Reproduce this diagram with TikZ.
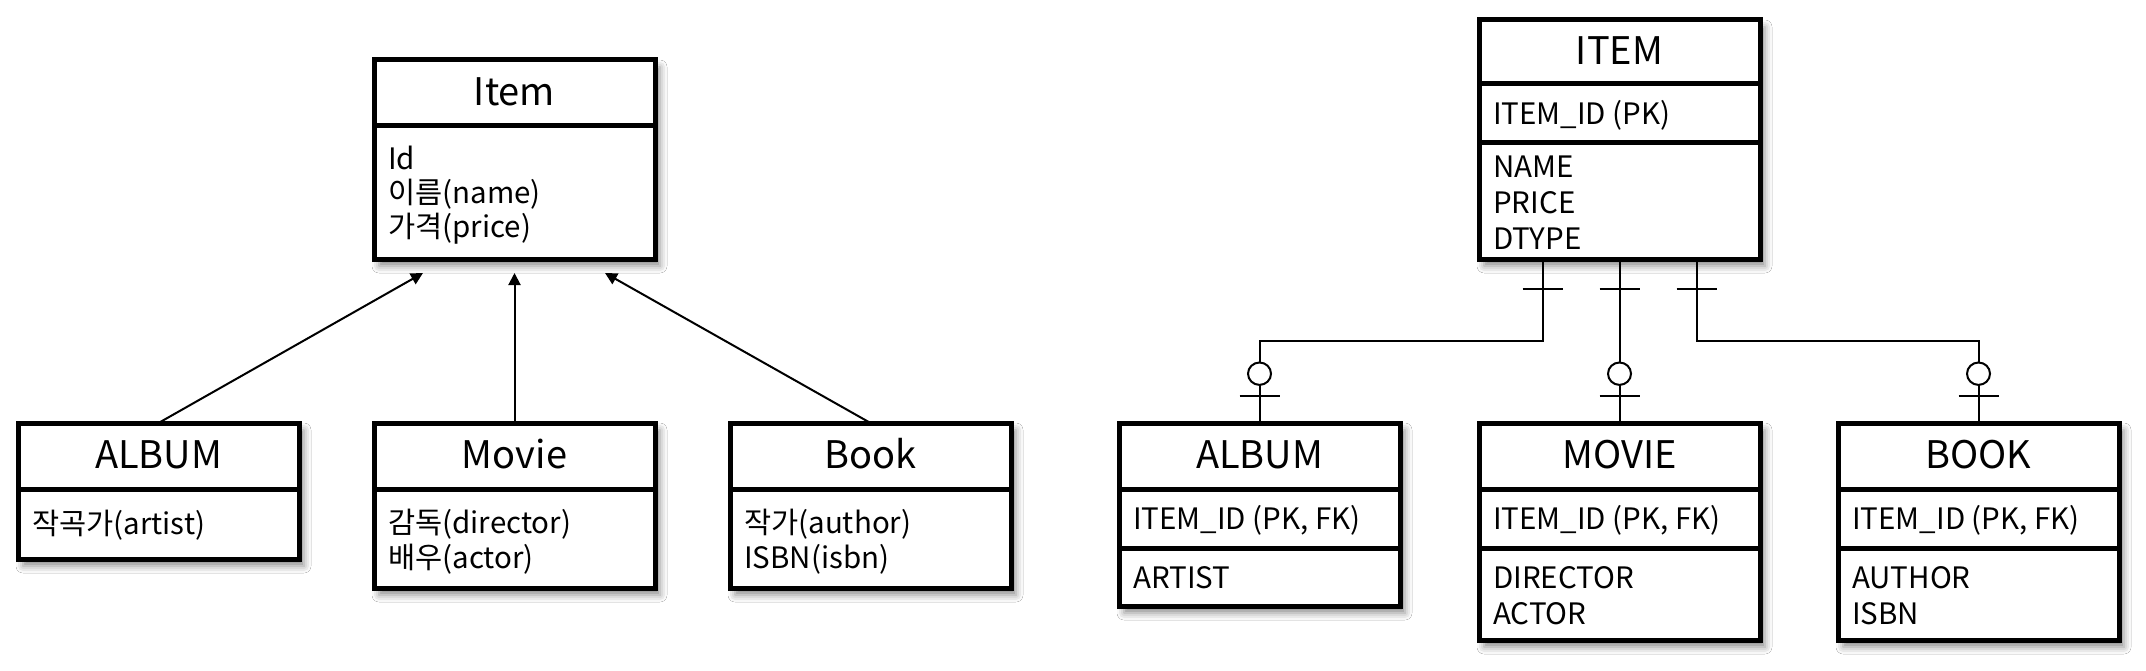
\documentclass[tikz,border=0pt]{standalone}
\usepackage{fontspec}
\setmainfont{Noto Sans CJK KR}
\usetikzlibrary{shadows.blur,arrows.meta,calc}
\begin{document}
\begin{tikzpicture}[x=1pt,y=-1pt,
  ent/.style={draw, line width=5pt, fill=white, minimum width=281pt, outer sep=0pt, inner sep=0pt, anchor=north west,
    blur shadow={shadow xshift=5pt, shadow yshift=-7pt, shadow blur radius=7pt, shadow opacity=45}},
  sepline/.style={line width=5pt},
  ttl/.style={anchor=base, font=\fontsize{38}{44}\selectfont, inner sep=0pt},
  att/.style={anchor=base west, font=\fontsize{29.5}{35}\selectfont, inner sep=0pt},
  conn/.style={line width=2pt},
  inh/.style={line width=2pt, -{Triangle[length=12pt,width=12pt]}},
]
\useasboundingbox[fill=white] (0,0) rectangle (2146,671);

% ---------- left: class diagram ----------
\node[ent, minimum height=199pt] (itemL) at (374,60) {};
\draw[sepline] (itemL.west |- 0,126) -- (itemL.east |- 0,126);
\node[ttl] (itemLt) at (514.5,105.5) {Item};
\node[att] (itemLa) at (388,169.5) {Id};
\node[att] (itemLb) at (388,203.5) {이름(name)};
\node[att] (itemLc) at (388,237.5) {가격(price)};

\node[ent, minimum height=136pt] (albumL) at (18,423) {};
\draw[sepline] (albumL.west |- 0,489) -- (albumL.east |- 0,489);
\node[ttl] (albumLt) at (158.5,468.5) {ALBUM};
\node[att] (albumLa) at (32,534.5) {작곡가(artist)};

\node[ent, minimum height=165pt] (movieL) at (374,423) {};
\draw[sepline] (movieL.west |- 0,489) -- (movieL.east |- 0,489);
\node[ttl] (movieLt) at (514.5,468.5) {Movie};
\node[att] (movieLa) at (388,533) {감독(director)};
\node[att] (movieLb) at (388,568) {배우(actor)};

\node[ent, minimum height=165pt] (bookL) at (730,423) {};
\draw[sepline] (bookL.west |- 0,489) -- (bookL.east |- 0,489);
\node[ttl] (bookLt) at (870.5,468.5) {Book};
\node[att] (bookLa) at (744,533) {작가(author)};
\node[att] (bookLb) at (744,568) {ISBN(isbn)};

\draw[inh] (albumL.north) -- ($(itemL.south west)+(49,14)$);
\draw[inh] (movieL.north) -- ($(itemL.south)+(0,14)$);
\draw[inh] (bookL.north) -- ($(itemL.south east)+(-50,14)$);

% ---------- right: ER diagram ----------
\node[ent, minimum height=239pt] (itemR) at (1479,20) {};
\draw[sepline] (itemR.west |- 0,84) -- (itemR.east |- 0,84);
\draw[sepline] (itemR.west |- 0,143) -- (itemR.east |- 0,143);
\node[ttl] (itemRt) at (1619.5,64.5) {ITEM};
\node[att] (itemRa) at (1493,124.5) {ITEM\_ID (PK)};
\node[att] (itemRb) at (1493,178) {NAME};
\node[att] (itemRc) at (1493,213.5) {PRICE};
\node[att] (itemRd) at (1493,249) {DTYPE};

\node[ent, minimum height=183pt] (albumR) at (1119,423) {};
\draw[sepline] (albumR.west |- 0,489) -- (albumR.east |- 0,489);
\draw[sepline] (albumR.west |- 0,548) -- (albumR.east |- 0,548);
\node[ttl] (albumRt) at (1259.5,468.5) {ALBUM};
\node[att] (albumRa) at (1133,529.5) {ITEM\_ID (PK, FK)};
\node[att] (albumRb) at (1133,588) {ARTIST};

\node[ent, minimum height=217pt] (movieR) at (1479,423) {};
\draw[sepline] (movieR.west |- 0,489) -- (movieR.east |- 0,489);
\draw[sepline] (movieR.west |- 0,548) -- (movieR.east |- 0,548);
\node[ttl] (movieRt) at (1619.5,468.5) {MOVIE};
\node[att] (movieRa) at (1493,529.5) {ITEM\_ID (PK, FK)};
\node[att] (movieRb) at (1493,588.5) {DIRECTOR};
\node[att] (movieRc) at (1493,624) {ACTOR};

\node[ent, minimum height=217pt] (bookR) at (1838,423) {};
\draw[sepline] (bookR.west |- 0,489) -- (bookR.east |- 0,489);
\draw[sepline] (bookR.west |- 0,548) -- (bookR.east |- 0,548);
\node[ttl] (bookRt) at (1978.5,468.5) {BOOK};
\node[att] (bookRa) at (1852,529.5) {ITEM\_ID (PK, FK)};
\node[att] (bookRb) at (1852,588.5) {AUTHOR};
\node[att] (bookRc) at (1852,624) {ISBN};

% connectors
\coordinate (pA) at ($(itemR.south)+(-77,0)$);
\coordinate (pB) at ($(itemR.south)+(77,0)$);
\draw[conn] (pA) |- ($(albumR.north)+(0,-82)$) -- (albumR.north);
\draw[conn] (itemR.south) -- (movieR.north);
\draw[conn] (pB) |- ($(bookR.north)+(0,-82)$) -- (bookR.north);
% one marks at ITEM side
\foreach \p in {pA,itemR.south,pB}{
  \draw[conn] ($(\p)+(-20,30)$) -- ($(\p)+(20,30)$);
}
% zero-or-one marks at child side
\foreach \n in {albumR,movieR,bookR}{
  \draw[conn, fill=white] ($(\n.north)+(0,-49.3)$) ellipse [x radius=11.5pt, y radius=11.2pt];
  \draw[conn] ($(\n.north)+(-20,-27.3)$) -- ($(\n.north)+(20,-27.3)$);
}
\end{tikzpicture}
\end{document}
